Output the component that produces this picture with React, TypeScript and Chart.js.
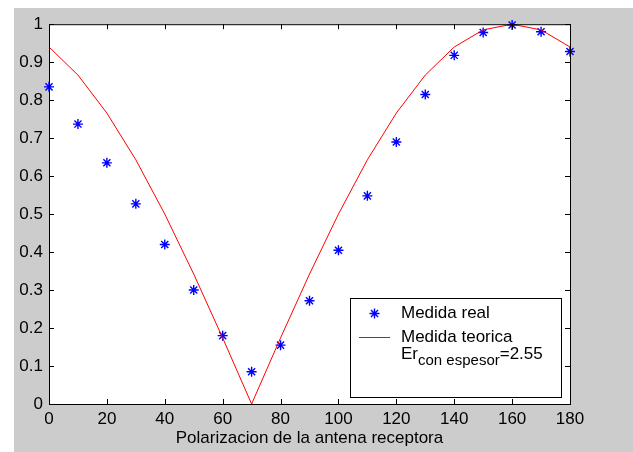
import React, { useEffect, useRef } from "react";
import { Chart, registerables } from "chart.js";

Chart.register(...registerables);

const angles = [0, 10, 20, 30, 40, 50, 60, 70, 80, 90, 100, 110, 120, 130, 140, 150, 160, 170, 180];
const medidaReal = [0.835, 0.737, 0.635, 0.527, 0.42, 0.3, 0.18, 0.085, 0.155, 0.272, 0.405, 0.548, 0.69, 0.815, 0.918, 0.978, 0.998, 0.98, 0.928];
const medidaTeorica = [0.94, 0.866, 0.766, 0.643, 0.5, 0.342, 0.174, 0.0, 0.174, 0.342, 0.5, 0.643, 0.766, 0.866, 0.94, 0.985, 1.0, 0.985, 0.94];
const xTicks = [0, 20, 40, 60, 80, 100, 120, 140, 160, 180];
const xTickLabels = ["0", "20", "40", "60", "80", "100", "120", "140", "160", "180"];
const yTicks = [0, 0.1, 0.2, 0.3, 0.4, 0.5, 0.6, 0.7, 0.8, 0.9, 1];
const yTickLabels = ["0", "0.1", "0.2", "0.3", "0.4", "0.5", "0.6", "0.7", "0.8", "0.9", "1"];
const seriesLabels = ["Medida real", "Medida teorica"];
const erMain = "Er";
const erSub = "con espesor";
const erValue = "=2.55";
const xTitle = "Polarizacion de la antena receptora";

const FONT = '"Liberation Sans", Arial, sans-serif';
const BLUE = "#0000ff";
const RED = "#ff0000";

function drawStar(ctx: CanvasRenderingContext2D, x: number, y: number, r: number) {
  const d = r * Math.SQRT1_2;
  ctx.beginPath();
  ctx.moveTo(x - r, y);
  ctx.lineTo(x + r, y);
  ctx.moveTo(x, y - r);
  ctx.lineTo(x, y + r);
  ctx.moveTo(x - d, y - d);
  ctx.lineTo(x + d, y + d);
  ctx.moveTo(x - d, y + d);
  ctx.lineTo(x + d, y - d);
  ctx.stroke();
}

const boxPlugin = {
  id: "matlabBox",
  beforeDatasetsDraw(chart: any) {
    const { ctx, chartArea: ca } = chart;
    ctx.save();
    ctx.fillStyle = "#ffffff";
    ctx.fillRect(ca.left, ca.top, ca.right - ca.left, ca.bottom - ca.top);
    ctx.restore();
  },
  afterDraw(chart: any) {
    const { ctx, chartArea: ca, scales } = chart;
    ctx.save();
    ctx.strokeStyle = "#000";
    ctx.lineWidth = 1;
    ctx.beginPath();
    for (const v of xTicks) {
      const x = Math.round(scales.x.getPixelForValue(v)) + 0.5;
      ctx.moveTo(x, ca.bottom);
      ctx.lineTo(x, ca.bottom - 5);
      ctx.moveTo(x, ca.top);
      ctx.lineTo(x, ca.top + 5);
    }
    for (const v of yTicks) {
      const y = Math.round(scales.y.getPixelForValue(v)) + 0.5;
      ctx.moveTo(ca.left, y);
      ctx.lineTo(ca.left + 5, y);
      ctx.moveTo(ca.right, y);
      ctx.lineTo(ca.right - 5, y);
    }
    ctx.stroke();
    ctx.strokeRect(ca.left + 0.5, ca.top + 0.5, ca.right - ca.left, ca.bottom - ca.top);

    const w = 211;
    const h = 99;
    const right = ca.right - 9;
    const bottom = ca.bottom - 7;
    const left = Math.round(right - w);
    const top = Math.round(bottom - h);
    ctx.fillStyle = "#fff";
    ctx.fillRect(left, top, w, h);
    ctx.strokeStyle = "#000";
    ctx.lineWidth = 1;
    ctx.strokeRect(left + 0.5, top + 0.5, w, h);
    ctx.strokeStyle = BLUE;
    ctx.lineWidth = 1.4;
    drawStar(ctx, left + 24.5, top + 15.5, 5);
    ctx.strokeStyle = RED;
    ctx.lineWidth = 1;
    ctx.beginPath();
    ctx.moveTo(left + 9, top + 39.5);
    ctx.lineTo(left + 40, top + 39.5);
    ctx.stroke();
    ctx.fillStyle = "#000";
    ctx.font = `17px ${FONT}`;
    ctx.textBaseline = "middle";
    ctx.textAlign = "left";
    const tx = left + 51;
    ctx.fillText(seriesLabels[0], tx, top + 15);
    ctx.fillText(seriesLabels[1], tx, top + 39);
    ctx.textBaseline = "alphabetic";
    ctx.fillText(erMain, tx, top + 61);
    const erW = ctx.measureText(erMain).width;
    ctx.font = `15px ${FONT}`;
    ctx.fillText(erSub, tx + erW, top + 67);
    const subW = ctx.measureText(erSub).width;
    ctx.font = `17px ${FONT}`;
    ctx.fillText(erValue, tx + erW + subW, top + 61);
    ctx.restore();
  },
};

export default function App() {
  const canvasRef = useRef<HTMLCanvasElement | null>(null);

  useEffect(() => {
    if (!canvasRef.current) return;
    const chart = new Chart(canvasRef.current, {
      type: "line",
      data: {
        labels: angles,
        datasets: [
          {
            label: seriesLabels[1],
            data: angles.map((a, i) => ({ x: a, y: medidaTeorica[i] })),
            borderColor: RED,
            backgroundColor: RED,
            borderWidth: 1,
            pointRadius: 0,
            tension: 0,
            fill: false,
            order: 0,
          },
          {
            label: seriesLabels[0],
            data: angles.map((a, i) => ({ x: a, y: medidaReal[i] })),
            showLine: false,
            pointStyle: "star",
            pointRadius: 5,
            pointBorderWidth: 1.4,
            borderColor: BLUE,
            backgroundColor: BLUE,
            pointBorderColor: BLUE,
            clip: false,
            order: 1,
          } as any,
        ],
      },
      options: {
        animation: false,
        responsive: true,
        maintainAspectRatio: false,
        layout: { padding: { top: 8, right: 63, left: 0, bottom: 0 } },
        plugins: { legend: { display: false }, tooltip: { enabled: false } },
        scales: {
          x: {
            type: "linear",
            min: 0,
            max: 180,
            grid: { display: false, drawTicks: false },
            border: { display: false },
            afterBuildTicks: (scale: any) => {
              scale.ticks = xTicks.map((v) => ({ value: v }));
            },
            afterFit: (scale: any) => {
              scale.height = 48;
            },
            ticks: {
              padding: 5,
              color: "#000",
              maxRotation: 0,
              autoSkip: false,
              font: { family: FONT, size: 17 },
              callback: (v: any) => xTickLabels[xTicks.indexOf(Number(v))] ?? "",
            },
            title: {
              display: true,
              text: xTitle,
              color: "#000",
              font: { family: FONT, size: 17 },
              padding: { top: 0, bottom: 3 },
            },
          },
          y: {
            type: "linear",
            min: 0,
            max: 1,
            grid: { display: false, drawTicks: false },
            border: { display: false },
            afterBuildTicks: (scale: any) => {
              scale.ticks = yTicks.map((v) => ({ value: v }));
            },
            afterFit: (scale: any) => {
              scale.width = 35;
            },
            ticks: {
              padding: 6,
              color: "#000",
              autoSkip: false,
              font: { family: FONT, size: 17 },
              callback: (v: any) => {
                const idx = yTicks.findIndex((t) => Math.abs(t - Number(v)) < 1e-9);
                return idx >= 0 ? yTickLabels[idx] : "";
              },
            },
          },
        },
      },
      plugins: [boxPlugin],
    } as any);
    return () => chart.destroy();
  }, []);

  return (
    <div
      style={{
        position: "absolute",
        left: 14,
        top: 8,
        width: 619,
        height: 444,
        background: "#cccccc",
      }}
    >
      <canvas ref={canvasRef} />
    </div>
  );
}
